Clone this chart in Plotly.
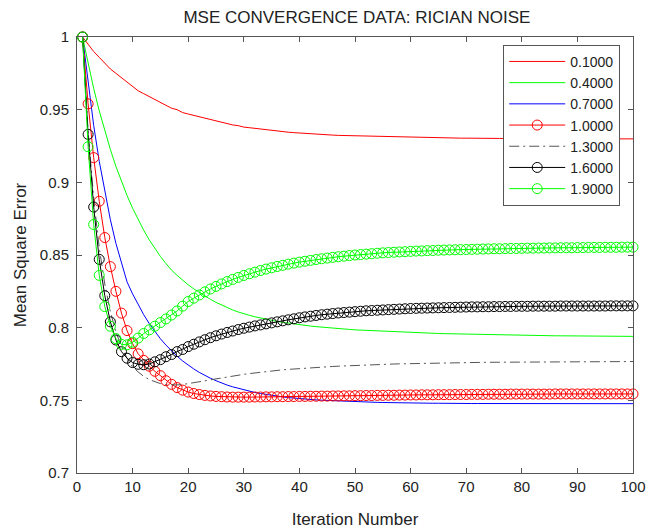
import plotly.graph_objects as go

iterations = list(range(1, 101))

mse_010 = [1.000, 0.995, 0.990, 0.986, 0.982, 0.978, 0.975, 0.972, 0.969, 0.966,
           0.963, 0.961, 0.959, 0.957, 0.955, 0.953, 0.951, 0.950, 0.948, 0.947,
           0.946, 0.945, 0.944, 0.943, 0.942, 0.941, 0.940, 0.9395, 0.939, 0.938,
           0.9376, 0.9371, 0.9366, 0.9361, 0.9357, 0.9353, 0.9349, 0.9345, 0.9342, 0.9339,
           0.9336, 0.9334, 0.9331, 0.9329, 0.9327, 0.9325, 0.9323, 0.9322, 0.9320, 0.9319,
           0.9318, 0.9317, 0.9316, 0.9315, 0.9314, 0.9313, 0.9312, 0.9311, 0.9310, 0.9309,
           0.9308, 0.9308, 0.9307, 0.9307, 0.9306, 0.9306, 0.9305, 0.9305, 0.9304, 0.9304,
           0.9303, 0.9303, 0.9303, 0.9302, 0.9302, 0.9302, 0.9302, 0.9301, 0.9301, 0.9301,
           0.9301, 0.9300, 0.9300, 0.9300, 0.9300, 0.9300, 0.9300, 0.9300, 0.9300, 0.9300,
           0.9300, 0.9300, 0.9299, 0.9299, 0.9299, 0.9299, 0.9299, 0.9299, 0.9299, 0.9299]

mse_040 = [1.000, 0.9815, 0.9646, 0.9492, 0.9353, 0.9226, 0.9110, 0.9005, 0.8909, 0.8822,
           0.8742, 0.8670, 0.8604, 0.8545, 0.8490, 0.8441, 0.8396, 0.8360, 0.8326, 0.8295,
           0.8267, 0.8241, 0.8217, 0.8195, 0.8174, 0.8155, 0.8138, 0.8122, 0.8108, 0.8095,
           0.8085, 0.8075, 0.8066, 0.8058, 0.8050, 0.8043, 0.8037, 0.8031, 0.8025, 0.8020,
           0.8015, 0.8011, 0.8007, 0.8003, 0.8000, 0.7997, 0.7994, 0.7991, 0.7988, 0.7985,
           0.7983, 0.7981, 0.7979, 0.7977, 0.7975, 0.7973, 0.7971, 0.7969, 0.7967, 0.7965,
           0.7964, 0.7963, 0.7962, 0.7961, 0.7960, 0.7959, 0.7958, 0.7957, 0.7956, 0.7955,
           0.7954, 0.7953, 0.7952, 0.7951, 0.7950, 0.7949, 0.7949, 0.7948, 0.7948, 0.7947,
           0.7947, 0.7946, 0.7946, 0.7945, 0.7945, 0.7944, 0.7944, 0.7944, 0.7943, 0.7943,
           0.7943, 0.7942, 0.7942, 0.7942, 0.7942, 0.7941, 0.7941, 0.7941, 0.7940, 0.7940]

mse_070 = [1.000, 0.9675, 0.9392, 0.9145, 0.8931, 0.8743, 0.8580, 0.8438, 0.8315, 0.8232,
           0.8157, 0.8089, 0.8028, 0.7973, 0.7924, 0.7880, 0.7840, 0.7804, 0.7771, 0.7742,
           0.7716, 0.7692, 0.7671, 0.7652, 0.7635, 0.7619, 0.7605, 0.7593, 0.7582, 0.7571,
           0.7562, 0.7554, 0.7547, 0.7540, 0.7534, 0.7529, 0.7524, 0.7519, 0.7515, 0.7512,
           0.7509, 0.7506, 0.7503, 0.7501, 0.7499, 0.7497, 0.7495, 0.7493, 0.7491, 0.7490,
           0.7489, 0.7488, 0.7487, 0.7486, 0.7485, 0.7484, 0.7483, 0.7483, 0.7482, 0.7482,
           0.7481, 0.7481, 0.7480, 0.7480, 0.7480, 0.7479, 0.7479, 0.7479, 0.7479, 0.7478,
           0.7478, 0.7478, 0.7478, 0.7478, 0.7478, 0.7478, 0.7478, 0.7478, 0.7478, 0.7478,
           0.7478, 0.7478, 0.7478, 0.7478, 0.7478, 0.7477, 0.7477, 0.7477, 0.7477, 0.7477,
           0.7477, 0.7477, 0.7477, 0.7477, 0.7477, 0.7477, 0.7477, 0.7477, 0.7477, 0.7477]

mse_100 = [1.000, 0.954, 0.917, 0.887, 0.862, 0.842, 0.825, 0.810, 0.798, 0.789,
           0.782, 0.7775, 0.7735, 0.770, 0.767, 0.7635, 0.761, 0.7588, 0.757, 0.7557,
           0.7547, 0.7540, 0.7534, 0.7530, 0.7527, 0.7525, 0.7523, 0.7522, 0.7522, 0.7522,
           0.7522, 0.7523, 0.7523, 0.7524, 0.7524, 0.7525, 0.7525, 0.7526, 0.7526, 0.7527,
           0.7527, 0.7528, 0.7528, 0.7529, 0.7529, 0.7530, 0.7530, 0.7531, 0.7531, 0.7532,
           0.7532, 0.7533, 0.7533, 0.7534, 0.7534, 0.7535, 0.7535, 0.7536, 0.7536, 0.7537,
           0.7537, 0.7538, 0.7538, 0.7538, 0.7539, 0.7539, 0.7539, 0.7540, 0.7540, 0.7540,
           0.7541, 0.7541, 0.7541, 0.7542, 0.7542, 0.7542, 0.7542, 0.7543, 0.7543, 0.7543,
           0.7543, 0.7543, 0.7543, 0.7543, 0.7543, 0.7544, 0.7544, 0.7544, 0.7544, 0.7544,
           0.7544, 0.7544, 0.7544, 0.7544, 0.7544, 0.7544, 0.7544, 0.7544, 0.7544, 0.7544]

mse_130 = [1.000, 0.935, 0.889, 0.855, 0.830, 0.811, 0.797, 0.787, 0.779, 0.773,
           0.7695, 0.7665, 0.7643, 0.7627, 0.7615, 0.7608, 0.7605, 0.7606, 0.7609, 0.7614,
           0.7620, 0.7627, 0.7634, 0.7641, 0.7648, 0.7655, 0.7661, 0.7667, 0.7673, 0.7679,
           0.7684, 0.7689, 0.7694, 0.7698, 0.7702, 0.7706, 0.7710, 0.7713, 0.7716, 0.7719,
           0.7722, 0.7725, 0.7727, 0.7729, 0.7731, 0.7733, 0.7735, 0.7737, 0.7739, 0.7741,
           0.7742, 0.7744, 0.7745, 0.7746, 0.7748, 0.7749, 0.7750, 0.7751, 0.7752, 0.7753,
           0.7754, 0.7755, 0.7755, 0.7756, 0.7757, 0.7757, 0.7758, 0.7759, 0.7759, 0.7760,
           0.7760, 0.7761, 0.7761, 0.7762, 0.7762, 0.7762, 0.7763, 0.7763, 0.7763, 0.7764,
           0.7764, 0.7764, 0.7764, 0.7765, 0.7765, 0.7765, 0.7765, 0.7765, 0.7766, 0.7766,
           0.7766, 0.7766, 0.7766, 0.7766, 0.7766, 0.7767, 0.7767, 0.7767, 0.7767, 0.7767]

mse_160 = [1.000, 0.933, 0.883, 0.847, 0.822, 0.804, 0.7915, 0.7835, 0.779, 0.776,
           0.7748, 0.7745, 0.775, 0.7765, 0.778, 0.780, 0.7815, 0.7835, 0.785, 0.787,
           0.7886, 0.7902, 0.7917, 0.7931, 0.7944, 0.7956, 0.7967, 0.7977, 0.7987, 0.7996,
           0.8004, 0.8012, 0.8019, 0.8026, 0.8033, 0.8040, 0.8047, 0.8054, 0.8061, 0.8068,
           0.8074, 0.8079, 0.8084, 0.8089, 0.8093, 0.8097, 0.8101, 0.8104, 0.8107, 0.8110,
           0.8113, 0.8116, 0.8118, 0.8120, 0.8122, 0.8124, 0.8126, 0.8128, 0.8130, 0.8132,
           0.8133, 0.8134, 0.8135, 0.8136, 0.8137, 0.8138, 0.8139, 0.8140, 0.8141, 0.8142,
           0.8143, 0.8143, 0.8144, 0.8144, 0.8145, 0.8145, 0.8146, 0.8146, 0.8147, 0.8147,
           0.8147, 0.8148, 0.8148, 0.8148, 0.8148, 0.8148, 0.8149, 0.8149, 0.8149, 0.8149,
           0.8149, 0.8149, 0.8149, 0.8149, 0.8149, 0.8150, 0.8150, 0.8150, 0.8150, 0.8150]

mse_190 = [1.000, 0.9245, 0.871, 0.836, 0.8145, 0.801, 0.7925, 0.7885, 0.7882, 0.790,
           0.7928, 0.796, 0.7985, 0.801, 0.8035, 0.806, 0.8087, 0.8115, 0.8148, 0.8180,
           0.8203, 0.8225, 0.8246, 0.8266, 0.8284, 0.8301, 0.8317, 0.8332, 0.8346, 0.8359,
           0.8371, 0.8382, 0.8393, 0.8403, 0.8412, 0.8421, 0.8429, 0.8437, 0.8444, 0.8451,
           0.8457, 0.8463, 0.8469, 0.8474, 0.8479, 0.8484, 0.8488, 0.8492, 0.8496, 0.8500,
           0.8503, 0.8506, 0.8509, 0.8512, 0.8515, 0.8517, 0.8519, 0.8521, 0.8523, 0.8525,
           0.8527, 0.8528, 0.8530, 0.8531, 0.8533, 0.8534, 0.8535, 0.8536, 0.8537, 0.8538,
           0.8539, 0.8540, 0.8541, 0.8542, 0.8543, 0.8543, 0.8544, 0.8545, 0.8545, 0.8546,
           0.8547, 0.8547, 0.8548, 0.8548, 0.8549, 0.8549, 0.8550, 0.8550, 0.8550, 0.8551,
           0.8551, 0.8552, 0.8552, 0.8552, 0.8553, 0.8553, 0.8553, 0.8554, 0.8554, 0.8554]

series_names = ["0.1000", "0.4000", "0.7000", "1.0000", "1.3000", "1.6000", "1.9000"]
series_values = [mse_010, mse_040, mse_070, mse_100, mse_130, mse_160, mse_190]
series_colors = ["#ff0000", "#00ff00", "#0000ff", "#ff0000", "#555555", "#000000", "#00ff00"]
series_modes = ["lines", "lines", "lines", "lines+markers", "lines", "lines+markers", "lines+markers"]
series_dash = ["solid", "solid", "solid", "solid", "10px,4px,2px,4px", "solid", "solid"]

y_ticks = [0.7, 0.75, 0.8, 0.85, 0.9, 0.95, 1.0]
y_tick_labels = ["0.7", "0.75", "0.8", "0.85", "0.9", "0.95", "1"]
x_ticks = [0, 10, 20, 30, 40, 50, 60, 70, 80, 90, 100]

FONT = "Liberation Sans, Arial, Helvetica, sans-serif"
AXIS_COLOR = "#555555"
TEXT_COLOR = "#222222"

fig = go.Figure()
for name, vals, col, mode, dash in zip(series_names, series_values, series_colors, series_modes, series_dash):
    fig.add_trace(go.Scatter(
        x=iterations, y=vals, name=name, mode=mode,
        line=dict(color=col, width=1, dash=dash),
        marker=dict(symbol="circle-open", size=10, color=col, line=dict(width=1, color=col)),
        cliponaxis=False,
    ))

fig.update_layout(
    template="none",
    width=661, height=532,
    margin=dict(l=77, r=28, t=37, b=59, autoexpand=False),
    paper_bgcolor="white", plot_bgcolor="white",
    font=dict(family=FONT, size=14, color=TEXT_COLOR),
    title=dict(text="MSE CONVERGENCE DATA: RICIAN NOISE", x=0.54, xanchor="center",
               y=0.968, yanchor="middle", font=dict(size=17, color=TEXT_COLOR)),
    showlegend=True,
    legend=dict(x=0.977, y=0.982, xanchor="right", yanchor="top",
                bgcolor="white", bordercolor=AXIS_COLOR, borderwidth=1,
                font=dict(size=14, color=TEXT_COLOR), itemwidth=56,
                tracegroupgap=0),
)
fig.update_xaxes(
    range=[0, 100], tickvals=x_ticks, ticks="inside", ticklen=5, tickcolor=AXIS_COLOR,
    showline=True, linecolor=AXIS_COLOR, linewidth=1, mirror="ticks",
    showgrid=False, zeroline=False, tickfont=dict(size=15), automargin=False,
    ticklabelstandoff=0,
    title=dict(text="Iteration Number", font=dict(size=17), standoff=19),
)
fig.update_yaxes(
    range=[0.7, 1.0], tickvals=y_ticks, ticktext=y_tick_labels, ticks="inside", ticklen=5,
    tickcolor=AXIS_COLOR, showline=True, linecolor=AXIS_COLOR, linewidth=1, mirror="ticks",
    showgrid=False, zeroline=False, tickfont=dict(size=15), automargin=False,
    ticklabelstandoff=4,
    title=dict(text="Mean Square Error", font=dict(size=17), standoff=8),
)

fig.write_html("out.html")
